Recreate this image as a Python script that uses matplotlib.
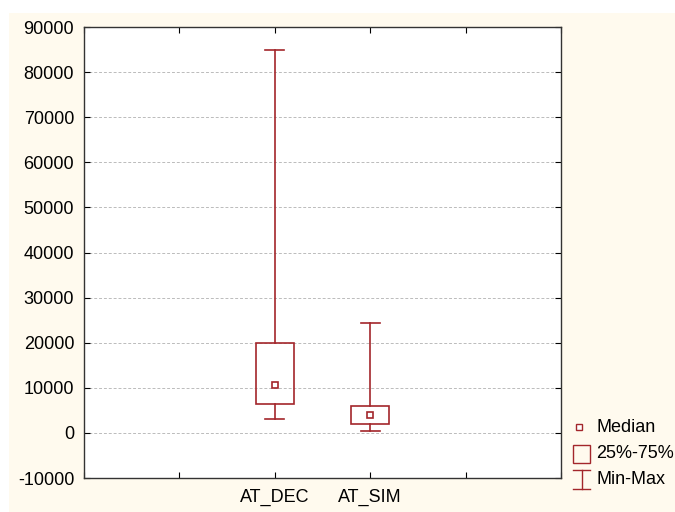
import matplotlib
matplotlib.use("Agg")
import matplotlib.pyplot as plt
from matplotlib.patches import Rectangle
from matplotlib.lines import Line2D

plt.rcParams["font.family"] = ["Liberation Sans", "DejaVu Sans"]
plt.rcParams["font.size"] = 13
plt.rcParams["axes.unicode_minus"] = False

# data
labels = ["AT_DEC", "AT_SIM"]
positions = [2, 3]
mins = [3000, 500]
q25 = [6500, 1900]
medians = [10700, 4000]
q75 = [20000, 5900]
maxs = [85000, 24300]

col = "#A3262B"
box_w = 0.4
cap_w = 0.2

fig = plt.figure(figsize=(6.75, 5.12), dpi=100, facecolor="white")
fig.patches.append(Rectangle((0.013, 0.0), 0.987, 0.975, transform=fig.transFigure,
                             facecolor="#FFFAEE", edgecolor="none", zorder=-10))
ax = fig.add_axes([0.1244, 0.0664, 0.7066, 0.8806])
ax.set_facecolor("white")

for x, lo, a, m, b, hi in zip(positions, mins, q25, medians, q75, maxs):
    ax.add_patch(Rectangle((x - box_w / 2, a), box_w, b - a, facecolor="none",
                           edgecolor=col, lw=1.2, zorder=3))
    ax.plot([x, x], [b, hi], color=col, lw=1.2, zorder=3)
    ax.plot([x, x], [lo, a], color=col, lw=1.2, zorder=3)
    ax.plot([x - cap_w / 2, x + cap_w / 2], [hi, hi], color=col, lw=1.2, zorder=3)
    ax.plot([x - cap_w / 2, x + cap_w / 2], [lo, lo], color=col, lw=1.2, zorder=3)
    ax.plot([x], [m], marker="s", ms=5, mfc="white", mec=col, mew=1.2, zorder=4)

ax.set_xlim(0, 5)
ax.set_ylim(-10000, 90000)
ax.set_yticks(range(-10000, 90001, 10000))
ax.set_xticks(range(0, 6))
ax.set_xticklabels(["", "", labels[0], labels[1], "", ""])
ax.grid(True, axis="y", color="#BBBBBB", ls=(0, (3, 2)), lw=0.7)
ax.tick_params(direction="in", top=True, right=True, length=4, width=0.8)
ax.tick_params(axis="y", pad=7)
ax.tick_params(axis="x", pad=8)
for s in ax.spines.values():
    s.set_color("#333333")
    s.set_linewidth(1.0)

# legend, drawn beside the axes
tr = fig.transFigure
fig.add_artist(Line2D([579 / 675], [1 - 427 / 512], marker="s", ms=4, mfc="white",
                      mec=col, mew=1.0, transform=tr))
fig.add_artist(Rectangle((573 / 675, 1 - 463 / 512), 17 / 675, 18 / 512, transform=tr,
                         facecolor="none", edgecolor=col, lw=1.0))
fig.add_artist(Line2D([581.5 / 675] * 2, [1 - 470 / 512, 1 - 489 / 512], color=col,
                      lw=1.0, transform=tr))
for yy in (470, 489):
    fig.add_artist(Line2D([573 / 675, 590 / 675], [1 - yy / 512] * 2, color=col,
                          lw=1.0, transform=tr))
for txt, yy in (("Median", 427), ("25%-75%", 453), ("Min-Max", 480)):
    fig.text(596 / 675, 1 - yy / 512, txt, va="center", ha="left", fontsize=13)

fig.savefig("out.png", dpi=100, facecolor=fig.get_facecolor())
